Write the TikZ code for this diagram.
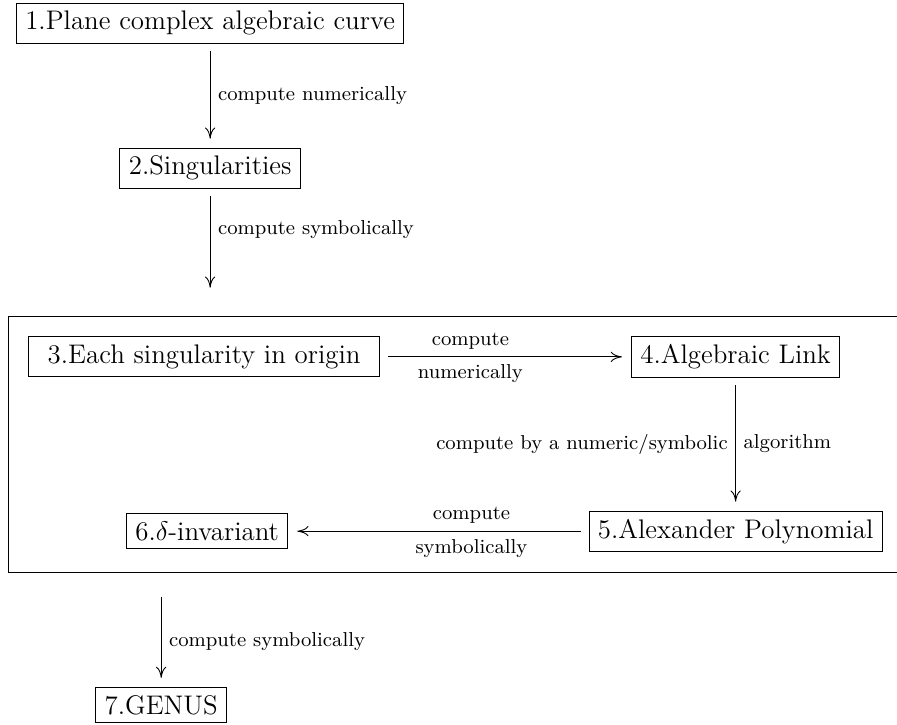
\documentclass[tikz,border=0pt]{standalone}
\usepackage{amsmath,amssymb}
\usepackage{tikz}
\usetikzlibrary{arrows.meta,positioning,fit}

\begin{document}
\begin{tikzpicture}[
  box/.style={draw, font=\large, inner xsep=4pt, inner ysep=3.5pt},
  frame/.style={draw, inner sep=9pt},
  lbl/.style={font=\small},
  arr/.style={-{To[length=5pt,width=4.6pt]}, shorten <=3.5pt, shorten >=4pt}
]
\useasboundingbox (0,0) rectangle (400.4pt,-323.2pt);

\node[box, anchor=north west] (curve) at (7.1pt,-1.3pt) {1.Plane complex algebraic curve};
\node[box, below=46.4pt of curve] (sing) {2.Singularities};
\coordinate[below=44.2pt of sing] (singout);

% local part
\node[box, minimum width=156.7pt, below=66pt of sing, xshift=-2.7pt] (each) {3.Each singularity in origin};
\node[box, right=112pt of each] (link) {4.Algebraic Link};
\node[box, below=59.4pt of link] (alex) {5.Alexander Polynomial};
\node[box, left=134pt of alex] (delta) {6.$\delta$-invariant};
\node[frame, fit=(each)(link)(alex)(delta)] (local) {};

\node[box, below=61.5pt of delta, xshift=-20.5pt] (genus) {7.GENUS};
\coordinate (genusin) at ([yshift=-11pt]local.south -| genus.north);

\draw[arr] (curve) -- node[lbl, right] {compute numerically} (sing);
\draw[arr, shorten >=0pt] (sing) -- node[lbl, right, pos=0.41] {compute symbolically} (singout);

\draw[arr] (each) -- node[lbl, above, pos=0.36] {compute}
                     node[lbl, below, pos=0.36] {numerically} (link);
\draw[arr] (link) -- node[lbl, left] {compute by a numeric/symbolic}
                     node[lbl, right] {algorithm} (alex);
\draw[arr] (alex) -- node[lbl, above, pos=0.39] {compute}
                     node[lbl, below, pos=0.39] {symbolically} (delta);

\draw[arr, shorten <=0pt] (genusin) -- node[lbl, right] {compute symbolically} (genus);
\end{tikzpicture}
\end{document}
